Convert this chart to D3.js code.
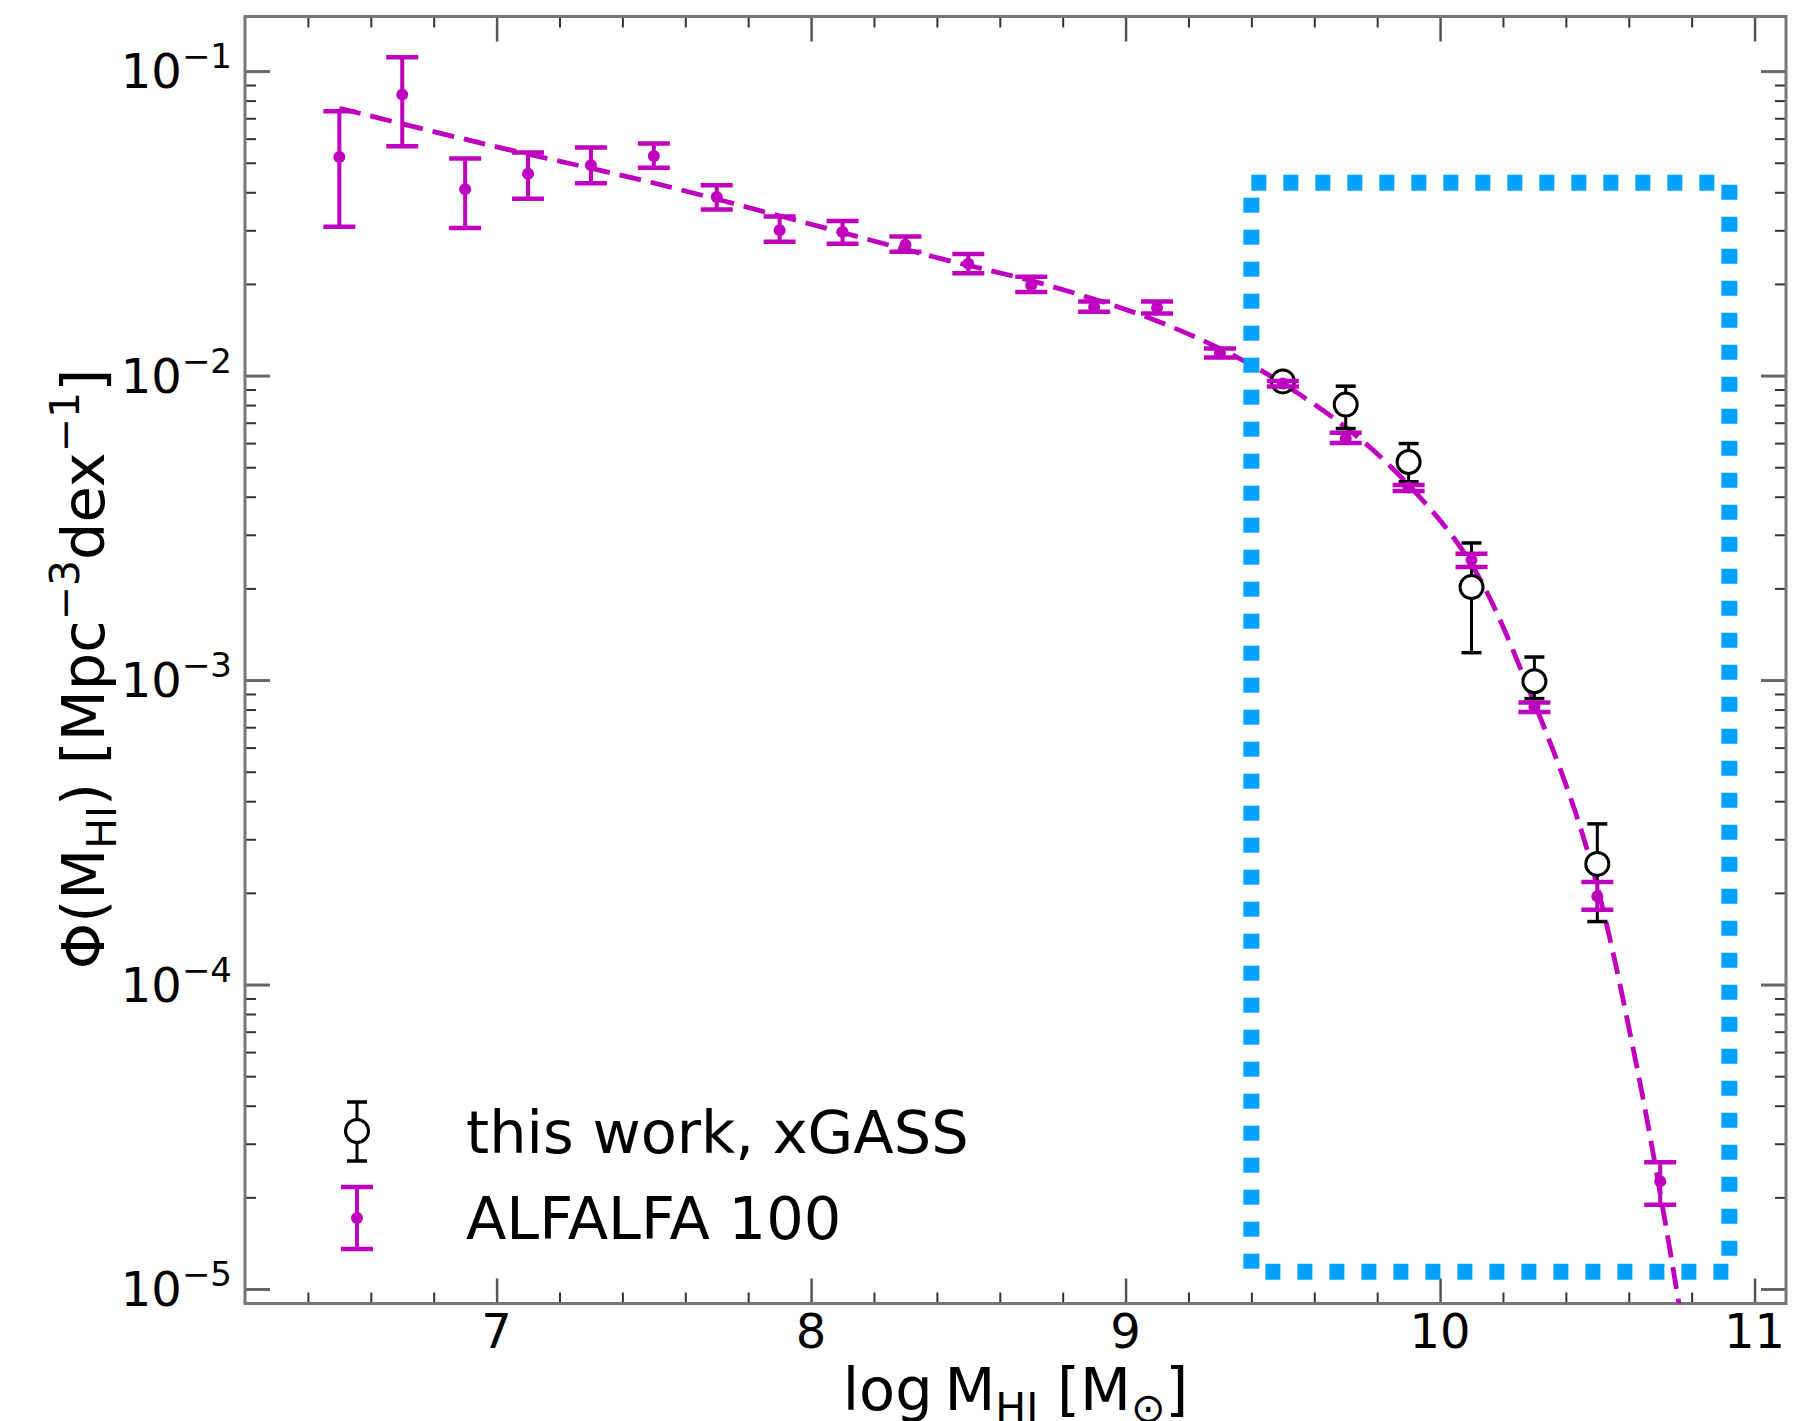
<!DOCTYPE html>
<html>
<head>
<meta charset="utf-8">
<script src="https://cdn.jsdelivr.net/npm/d3@7"></script>
<style>
  body { margin: 0; background: #fff; }
  text { font-family: "DejaVu Sans", sans-serif; fill: #000; }
</style>
</head>
<body>
<div class="chart"></div>
<script>
// ALFALFA 100 points (log M_HI bin, phi, lower / upper end of error bar)
var alfaMass = [6.5, 6.7, 6.9, 7.1, 7.3, 7.5, 7.7, 7.9, 8.1, 8.3, 8.5,
                8.7, 8.9, 9.1, 9.3, 9.5, 9.7, 9.9, 10.1, 10.3, 10.5, 10.7];
var alfaPhi = [0.0522, 0.0837, 0.0409, 0.0460, 0.0491, 0.0526, 0.0386, 0.0300, 0.0296, 0.0269, 0.0233,
               0.0198, 0.0168, 0.0167, 0.01186, 0.00942, 0.00621, 0.00429, 0.00248, 0.000817, 0.000195, 2.26e-5];
var alfaLo = [0.0308, 0.0566, 0.0305, 0.0381, 0.0428, 0.0481, 0.0351, 0.0275, 0.0271, 0.0255, 0.0217,
              0.0188, 0.0162, 0.0160, 0.01146, 0.0092, 0.00601, 0.00418, 0.00235, 0.000786, 0.000176, 1.89e-5];
var alfaHi = [0.0738, 0.111, 0.0516, 0.0540, 0.0561, 0.0578, 0.0422, 0.0333, 0.0322, 0.0286, 0.0251,
              0.0211, 0.0175, 0.0175, 0.01227, 0.0096, 0.00649, 0.00437, 0.00260, 0.000844, 0.000217, 2.61e-5];

// this work, xGASS
var xgassMass = [9.5, 9.7, 9.9, 10.1, 10.3, 10.5];
var xgassPhi = [0.00957, 0.00803, 0.00520, 0.00202, 0.000991, 0.000249];
var xgassLo = [0.0093, 0.00670, 0.00448, 0.00123, 0.000869, 0.000161];
var xgassHi = [0.0099, 0.00923, 0.00598, 0.00282, 0.00119, 0.000337];

// dashed fit
var fitMass = [6.5, 7.0, 7.5, 8.0, 8.4, 8.76, 9.1, 9.4, 9.7, 9.9, 10.1, 10.3, 10.47, 10.63, 10.76];
var fitPhi = [0.0755, 0.0564, 0.0429, 0.0314, 0.0244, 0.0197, 0.0151, 0.01084, 0.00676, 0.00437,
              0.0024, 0.00084, 0.000272, 5.1e-5, 8.9e-6];

// dotted highlight box
var boxMass = [9.4, 10.92];
var boxPhi = [1.14e-5, 0.043];

// tick labels
var xTicks = [7, 8, 9, 10, 11];
var yTickExp = [-1, -2, -3, -4, -5];

var legendLabels = ["this work, xGASS", "ALFALFA 100"];

var svgWidth = 1819;
var svgHeight = 1421;

var margin = { top: 16.5, right: 33, bottom: 117.5, left: 245 };
var width = svgWidth - margin.left - margin.right;
var height = svgHeight - margin.top - margin.bottom;

var magenta = "#bf00bf";

var svg = d3.select(".chart")
  .append("svg")
  .attr("width", svgWidth)
  .attr("height", svgHeight)
  .style("background", "#fff");

var chartGroup = svg.append("g")
  .attr("transform", `translate(${margin.left}, ${margin.top})`);

var xScale = d3.scaleLinear().domain([6.2, 11.1]).range([0, width]);
var yScale = d3.scaleLog()
  .domain([Math.pow(10, -5.0476), Math.pow(10, -0.8207)])
  .range([height, 0]);

// minor tick positions
var xMinor = d3.range(64, 111, 2).map(d => d / 10).filter(d => d % 1 !== 0);
var yMinor = [];
[-6, -5, -4, -3, -2, -1].forEach(function(k) {
  d3.range(2, 10).forEach(function(m) {
    var v = m * Math.pow(10, k);
    if (v >= yScale.domain()[0] && v <= yScale.domain()[1]) yMinor.push(v);
  });
});
var yMajor = yTickExp.map(e => Math.pow(10, e));

// ticks on all four sides, pointing inwards
function addTicks(axis, values, size, transform, color, sw) {
  var g = chartGroup.append("g")
    .attr("transform", transform)
    .call(axis.tickValues(values).tickSize(size).tickFormat(""));
  g.select(".domain").remove();
  g.selectAll("line").attr("stroke", color).attr("stroke-width", sw);
  return g;
}
addTicks(d3.axisBottom(xScale), xTicks, -25, `translate(0, ${height})`, "#555", 2.5);
addTicks(d3.axisBottom(xScale), xMinor, -11, `translate(0, ${height})`, "#333", 2);
addTicks(d3.axisTop(xScale), xTicks, -25, "translate(0, 0)", "#555", 2.5);
addTicks(d3.axisTop(xScale), xMinor, -11, "translate(0, 0)", "#333", 2);
addTicks(d3.axisLeft(yScale), yMajor, -25, "translate(0, 0)", "#666", 3);
addTicks(d3.axisLeft(yScale), yMinor, -11, "translate(0, 0)", "#333", 2);
addTicks(d3.axisRight(yScale), yMajor, -25, `translate(${width}, 0)`, "#666", 3);
addTicks(d3.axisRight(yScale), yMinor, -11, `translate(${width}, 0)`, "#333", 2);

// frame
chartGroup.append("rect")
  .attr("width", width)
  .attr("height", height)
  .attr("fill", "none")
  .attr("stroke", "#777")
  .attr("stroke-width", 3);

// x tick labels
chartGroup.append("g").selectAll("text")
  .data(xTicks)
  .enter().append("text")
  .attr("x", d => xScale(d))
  .attr("y", height + 44.5)
  .attr("text-anchor", "middle")
  .attr("font-size", "48px")
  .text(d => d);

// y tick labels 10^k
var yLab = chartGroup.append("g").selectAll("text")
  .data(yTickExp)
  .enter().append("text")
  .attr("x", -13)
  .attr("y", d => yScale(Math.pow(10, d)) + 17)
  .attr("text-anchor", "end")
  .attr("font-size", "48px");
yLab.append("tspan").text("10");
yLab.append("tspan").attr("font-size", "34px").attr("dy", -20).text(d => "\u2212" + (-d));

// clip everything to the axes box
svg.append("clipPath").attr("id", "plotClip")
  .append("rect").attr("width", width).attr("height", height);
var plot = chartGroup.append("g").attr("clip-path", "url(#plotClip)");

// dashed fit line
var fitLine = d3.line()
  .x(d => xScale(d[0]))
  .y(d => yScale(d[1]))
  .curve(d3.curveCatmullRom);

plot.append("path")
  .datum(d3.zip(fitMass, fitPhi))
  .attr("d", fitLine)
  .attr("fill", "none")
  .attr("stroke", magenta)
  .attr("stroke-width", 4.8)
  .attr("stroke-dasharray", "22,10");

// error bar helper
function errorBar(g, cx, yLo, yHi, capHalf, color, sw) {
  g.append("line").attr("x1", cx).attr("x2", cx).attr("y1", yLo).attr("y2", yHi)
    .attr("stroke", color).attr("stroke-width", sw);
  [yLo, yHi].forEach(function(yy) {
    g.append("line").attr("x1", cx - capHalf).attr("x2", cx + capHalf).attr("y1", yy).attr("y2", yy)
      .attr("stroke", color).attr("stroke-width", sw + 0.5);
  });
}

// xGASS points
var xgassGroup = plot.append("g");
xgassMass.forEach(function(m, i) {
  errorBar(xgassGroup, xScale(m), yScale(xgassLo[i]), yScale(xgassHi[i]), 10, "#000", 3);
});
xgassGroup.selectAll("circle")
  .data(d3.zip(xgassMass, xgassPhi))
  .enter().append("circle")
  .attr("cx", d => xScale(d[0]))
  .attr("cy", d => yScale(d[1]))
  .attr("r", 11.5)
  .attr("fill", "#fff")
  .attr("stroke", "#000")
  .attr("stroke-width", 3);

// ALFALFA points
var alfaGroup = plot.append("g");
alfaMass.forEach(function(m, i) {
  errorBar(alfaGroup, xScale(m), yScale(alfaLo[i]), yScale(alfaHi[i]), 16, magenta, 4);
});
alfaGroup.selectAll("circle")
  .data(d3.zip(alfaMass, alfaPhi))
  .enter().append("circle")
  .attr("cx", d => xScale(d[0]))
  .attr("cy", d => yScale(d[1]))
  .attr("r", 6)
  .attr("fill", magenta);

// dotted blue box
var bx0 = xScale(boxMass[0]), bx1 = xScale(boxMass[1]);
var by0 = yScale(boxPhi[1]), by1 = yScale(boxPhi[0]);
chartGroup.append("path")
  .attr("d", `M${bx0},${by0}H${bx1}V${by1}H${bx0}Z`)
  .attr("fill", "none")
  .attr("stroke", "#00a2ff")
  .attr("stroke-width", 16)
  .attr("stroke-dasharray", "15,17");

// legend
var legend = svg.append("g");
var lx = 357;
errorBar(legend, lx, 1102, 1161, 10, "#000", 3);
legend.append("circle").attr("cx", lx).attr("cy", 1131).attr("r", 11.5)
  .attr("fill", "#fff").attr("stroke", "#000").attr("stroke-width", 3);
errorBar(legend, lx, 1187, 1249, 16, magenta, 4);
legend.append("circle").attr("cx", lx).attr("cy", 1218).attr("r", 6).attr("fill", magenta);

legend.selectAll("text.leg")
  .data(legendLabels)
  .enter().append("text")
  .attr("class", "leg")
  .attr("x", 466)
  .attr("y", (d, i) => [1153, 1239][i])
  .attr("font-size", "59px")
  .text(d => d);

// x axis label: log M_HI [M_sun] (bottom of it runs off the page, as in the original)
var xLabel = svg.append("text")
  .attr("x", margin.left + width / 2)
  .attr("y", 1410)
  .attr("text-anchor", "middle")
  .attr("font-size", "59px");
xLabel.append("tspan").text("log\u2009M");
xLabel.append("tspan").attr("font-size", "41px").attr("dy", 12).text("HI");
xLabel.append("tspan").attr("dy", -12).text(" [M");
xLabel.append("tspan").attr("font-size", "41px").attr("dy", 12).text("\u2299");
xLabel.append("tspan").attr("dy", -12).text("]");

// y axis label: Phi(M_HI) [Mpc^-3 dex^-1]
var yLabel = svg.append("text")
  .attr("transform", "translate(104, 669) rotate(-90)")
  .attr("text-anchor", "middle")
  .attr("font-size", "59px");
yLabel.append("tspan").text("\u03A6(M");
yLabel.append("tspan").attr("font-size", "41px").attr("dy", 12).text("HI");
yLabel.append("tspan").attr("dy", -12).text(") [Mpc");
yLabel.append("tspan").attr("font-size", "41px").attr("dy", -25).text("\u22123");
yLabel.append("tspan").attr("dy", 25).text("dex");
yLabel.append("tspan").attr("font-size", "41px").attr("dy", -25).text("\u22121");
yLabel.append("tspan").attr("dy", 25).text("]");
</script>
</body>
</html>
